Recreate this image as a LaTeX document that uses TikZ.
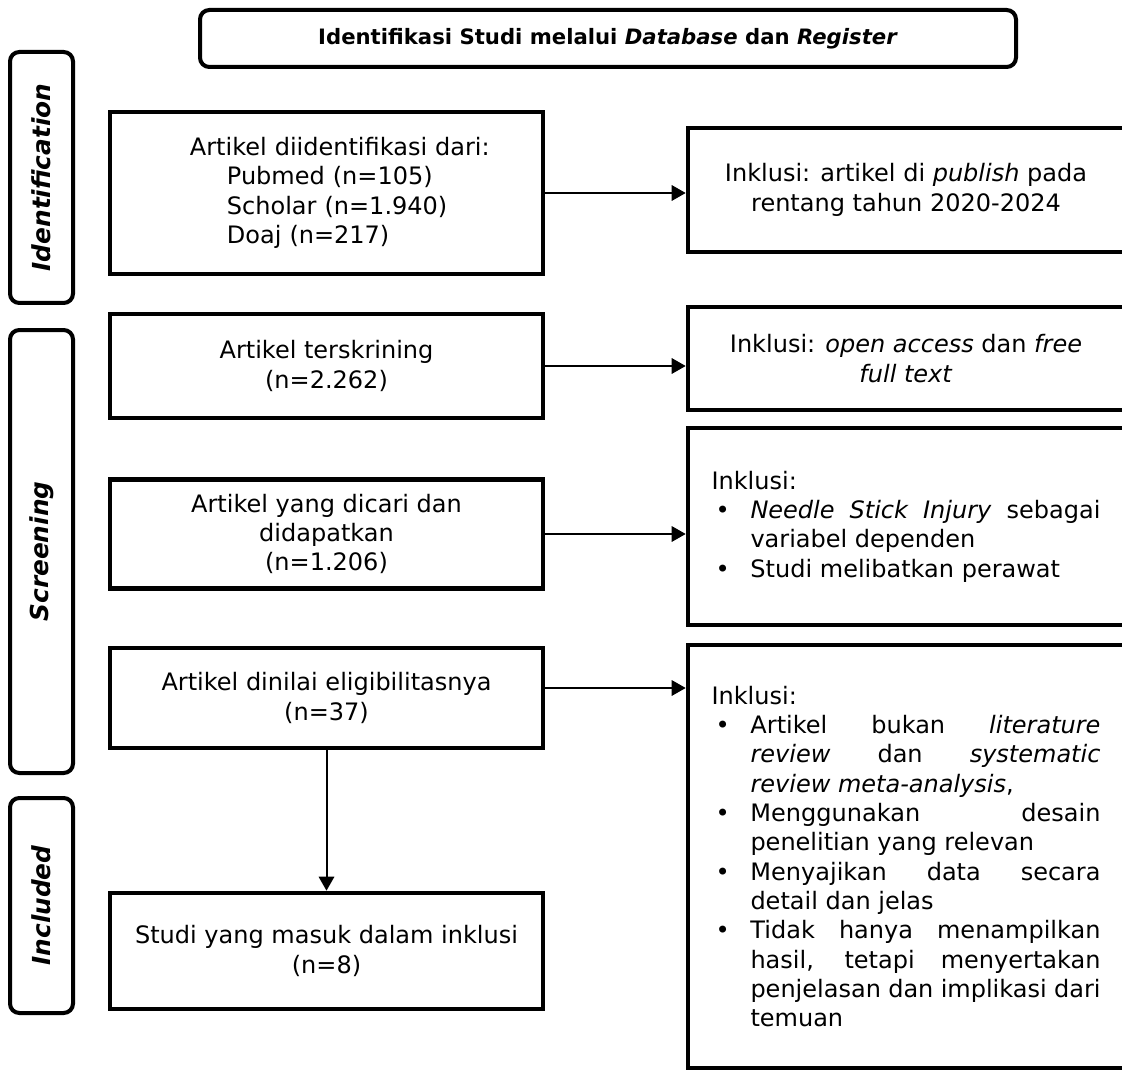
\documentclass[tikz,border=0pt]{standalone}
\usepackage{fontspec}
\setmainfont{DejaVu Sans}
\usetikzlibrary{arrows.meta}
\newlength\indw \setlength\indw{29.25pt}
\newlength\colw \setlength\colw{262.5pt}
\newcommand\ljbul[1]{\makebox[\indw][l]{\hspace{3pt}\textbullet}\makebox[\colw][s]{#1}}
\newcommand\lnbul[1]{\makebox[\indw][l]{\hspace{3pt}\textbullet}#1}
\newcommand\ljcon[1]{\hspace*{\indw}\makebox[\colw][s]{#1}}
\newcommand\lncon[1]{\hspace*{\indw}#1}
\begin{document}
\begin{tikzpicture}[x=0.75pt,y=-0.75pt,
  bodyfont/.style={font=\fontsize{18}{22}\selectfont},
  box/.style={draw, line width=3.4pt, minimum width=324.75pt, inner sep=0pt, align=center, bodyfont},
  rbox/.style={draw, line width=3.4pt, minimum width=327pt, inner sep=0pt, align=center, bodyfont},
  titlebox/.style={draw, line width=3pt, rounded corners=7pt, minimum width=612pt, minimum height=42.75pt, inner sep=0pt, font=\fontsize{15.9}{19}\selectfont\bfseries},
  side/.style={draw, line width=3pt, rounded corners=7pt, minimum height=47.25pt, rotate=90, inner sep=0pt, font=\fontsize{18.6}{22}\selectfont\bfseries\itshape},
  arr/.style={line width=1.5pt, -{Triangle[length=10.5pt,width=11.5pt]}}]
\useasboundingbox (0,0) rectangle (1122,1070);

\node[titlebox] (t) at (608,38.5) {Identifikasi Studi melalui \textit{Database} dan \textit{Register}};

\node[side, minimum width=188.25pt] (s1) at (41.5,177.5) {Identification};
\node[side, minimum width=332.25pt] (s2) at (41.5,551.5) {Screening};
\node[side, minimum width=161.25pt] (s3) at (41.5,905.5) {Included};

\node[box, minimum height=121.5pt, text width=260pt, align=left] (a1) at (326.5,193)
  {\hspace*{27.6pt}Artikel diidentifikasi dari:\\\hspace*{55.35pt}Pubmed (n=105)\\\hspace*{55.35pt}Scholar (n=1.940)\\\hspace*{55.35pt}Doaj (n=217)};
\node[box, minimum height=78pt] (a2) at (326.5,366) {Artikel terskrining\\(n=2.262)};
\node[box, minimum height=81.75pt] (a3) at (326.5,534) {Artikel yang dicari dan\\didapatkan\\(n=1.206)};
\node[box, minimum height=75pt] (a4) at (326.5,698) {Artikel dinilai eligibilitasnya\\(n=37)};
\node[box, minimum height=87pt] (a5) at (326.5,951) {Studi yang masuk dalam inklusi\\(n=8)};

\node[rbox, minimum height=93pt] (r1) at (906,190) {Inklusi: artikel di \textit{publish} pada\\rentang tahun 2020-2024};
\node[rbox, minimum height=77.25pt] (r2) at (906,358.5) {Inklusi: \textit{open access} dan \textit{free}\\\textit{full text}};
\node[rbox, minimum height=147.75pt, align=left] (r3) at (906,526.5)
  {Inklusi:\\\ljbul{\textit{Needle Stick Injury} sebagai}\\\lncon{variabel dependen}\\\lnbul{Studi melibatkan perawat}};
\node[rbox, minimum height=317.25pt, align=left] (r4) at (906,856.5)
  {Inklusi:\\
   \ljbul{Artikel bukan \textit{literature}}\\
   \ljcon{\textit{review} dan \textit{systematic}}\\
   \lncon{\textit{review meta-analysis},}\\
   \ljbul{Menggunakan desain}\\
   \lncon{penelitian yang relevan}\\
   \ljbul{Menyajikan data secara}\\
   \lncon{detail dan jelas}\\
   \ljbul{Tidak hanya menampilkan}\\
   \ljcon{hasil, tetapi menyertakan}\\
   \ljcon{penjelasan dan implikasi dari}\\
   \lncon{temuan}};

\draw[arr] (a1.east) -- (a1.east -| r1.west);
\draw[arr] (a2.east) -- (a2.east -| r2.west);
\draw[arr] (a3.east) -- (a3.east -| r3.west);
\draw[arr] ([yshift=7.5pt]a4.east) -- ([yshift=7.5pt]a4.east -| r4.west);
\draw[arr] (a4) -- (a5);
\end{tikzpicture}
\end{document}
